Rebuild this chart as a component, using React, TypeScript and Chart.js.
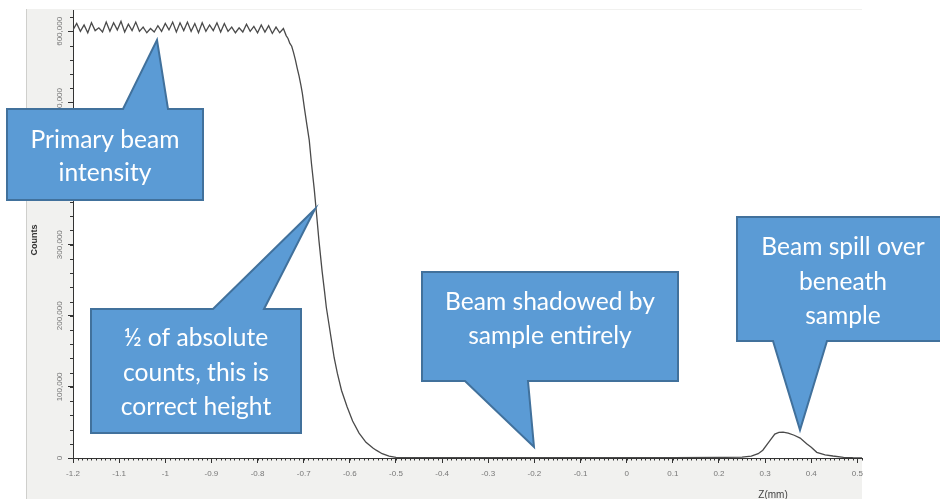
import React, { useEffect, useRef } from "react";
import { Chart, registerables } from "chart.js";
Chart.register(...registerables);

// Z position (mm)
const zValues = [
  -1.2, -1.192, -1.184, -1.176, -1.168, -1.16, -1.152, -1.144, -1.136, -1.128,
  -1.12, -1.112, -1.104, -1.096, -1.088, -1.08, -1.072, -1.064, -1.056, -1.048,
  -1.04, -1.032, -1.024, -1.016, -1.008, -1.0, -0.992, -0.984, -0.976, -0.968,
  -0.96, -0.952, -0.944, -0.936, -0.928, -0.92, -0.912, -0.904, -0.896, -0.888,
  -0.88, -0.872, -0.864, -0.856, -0.848, -0.84, -0.832, -0.824, -0.816, -0.808,
  -0.8, -0.792, -0.784, -0.776, -0.768, -0.76, -0.752, -0.744,
  -0.738, -0.734, -0.73, -0.726, -0.722, -0.718, -0.714, -0.71, -0.706, -0.703,
  -0.698, -0.693, -0.688, -0.683, -0.677, -0.672, -0.667, -0.66, -0.655, -0.651,
  -0.645, -0.64, -0.634, -0.627, -0.618, -0.606, -0.594, -0.58, -0.565, -0.55,
  -0.543, -0.53, -0.515, -0.5, -0.45, -0.4, -0.3, -0.2, -0.1, 0.0,
  0.1, 0.2, 0.25, 0.27, 0.285, 0.295, 0.31, 0.321, 0.33, 0.339,
  0.35, 0.363, 0.376, 0.39, 0.4, 0.412, 0.43, 0.447, 0.47, 0.49, 0.51,
];

// Counts (thousands)
const countsK = [
  602, 611, 600, 609, 598, 612, 601, 605, 599, 613,
  600, 612, 602, 614, 599, 610, 601, 613, 600, 606,
  598, 604, 599, 608, 600, 611, 602, 613, 599, 612,
  601, 613, 600, 611, 598, 612, 600, 609, 601, 612,
  599, 611, 600, 606, 598, 605, 599, 610, 600, 607,
  598, 609, 599, 608, 597, 606, 598, 604,
  594, 590, 583, 579, 570, 560, 548, 537, 524, 513,
  490, 468, 447, 413, 377, 342, 306, 262, 235, 212,
  187, 166, 141, 119, 95, 72, 52, 35, 22, 14,
  11, 6, 2.5, 1, 0.6, 0.5, 0.4, 0.5, 0.4, 0.5,
  0.6, 0.8, 1.2, 2.5, 6, 11, 24, 33.7, 36, 36.5,
  35, 32, 28, 20, 15, 8, 4.5, 2.8, 1, 0.5, 0.3,
];

const xTickValues = [-1.2, -1.1, -1.0, -0.9, -0.8, -0.7, -0.6, -0.5, -0.4, -0.3, -0.2, -0.1, 0, 0.1, 0.2, 0.3, 0.4, 0.5];
const yTickValues = [0, 100000, 200000, 300000, 400000, 500000, 600000];
const yTickLabels = ["0", "100,000", "200,000", "300,000", "400,000", "500,000", "600,000"];

const X_MIN = -1.2;
const X_MAX = 0.51;
const Y_MAX = 630000;
const X_MINOR_STEP = 0.01;
const Y_MINOR_STEP = 20000;

type Callout = {
  l: number; t: number; r: number; b: number;
  side: "top" | "bottom";
  b1: number; b2: number; tipX: number; tipY: number;
  lines: string[]; lineY: number[]; cx: number;
};

const callouts: Callout[] = [
  { l: 7, t: 109, r: 203, b: 200, side: "top", b1: 123, b2: 168, tipX: 157, tipY: 40,
    lines: ["Primary beam", "intensity"], lineY: [140, 173], cx: 105 },
  { l: 91, t: 309, r: 301, b: 433, side: "top", b1: 213, b2: 264, tipX: 315, tipY: 209,
    lines: ["½ of absolute", "counts, this is", "correct height"], lineY: [338, 373, 407], cx: 196 },
  { l: 422, t: 272, r: 678, b: 381, side: "bottom", b1: 465, b2: 528, tipX: 534, tipY: 447,
    lines: ["Beam shadowed by", "sample entirely"], lineY: [302, 336], cx: 550 },
  { l: 737, t: 217, r: 949, b: 341, side: "bottom", b1: 773, b2: 827, tipX: 800, tipY: 430,
    lines: ["Beam spill over", "beneath", "sample"], lineY: [247, 282, 316], cx: 843 },
];

const AXIS_FONT = "'Liberation Sans', Arial, sans-serif";

const decorPlugin = {
  id: "decor",
  beforeDraw(chart: any) {
    const ctx = chart.ctx;
    const ca = chart.chartArea;
    ctx.save();
    ctx.fillStyle = "#ffffff";
    ctx.fillRect(0, 0, chart.width, chart.height);
    ctx.fillStyle = "#f1f1ef";
    ctx.fillRect(26, 9, ca.right - 26, chart.height - 9);
    ctx.strokeStyle = "#cfcfcc";
    ctx.lineWidth = 1;
    ctx.beginPath();
    ctx.moveTo(26.5, 9);
    ctx.lineTo(26.5, chart.height);
    ctx.stroke();
    ctx.fillStyle = "#ffffff";
    ctx.fillRect(ca.left, ca.top, ca.right - ca.left, ca.bottom - ca.top);
    ctx.restore();
  },
  afterDraw(chart: any) {
    const ctx = chart.ctx;
    const xs = chart.scales.x;
    const ys = chart.scales.y;
    const ca = chart.chartArea;
    ctx.save();
    // minor ticks
    ctx.strokeStyle = "#333";
    ctx.lineWidth = 1;
    ctx.beginPath();
    const nx = Math.round((X_MAX - X_MIN) / X_MINOR_STEP);
    for (let i = 0; i <= nx; i++) {
      const v = X_MIN + i * X_MINOR_STEP;
      const px = Math.round(xs.getPixelForValue(v)) + 0.5;
      ctx.moveTo(px, ca.bottom);
      ctx.lineTo(px, ca.bottom + 2.5);
    }
    const ny = Math.floor(Y_MAX / Y_MINOR_STEP);
    for (let i = 0; i <= ny; i++) {
      const py = Math.round(ys.getPixelForValue(i * Y_MINOR_STEP)) + 0.5;
      ctx.moveTo(ca.left, py);
      ctx.lineTo(ca.left - 3, py);
    }
    ctx.stroke();

    // y labels rotated
    ctx.fillStyle = "#777";
    ctx.font = `8px ${AXIS_FONT}`;
    ctx.textAlign = "center";
    ctx.textBaseline = "middle";
    yTickValues.forEach((v, i) => {
      const py = ys.getPixelForValue(v);
      ctx.save();
      ctx.translate(60, py);
      ctx.rotate(-Math.PI / 2);
      ctx.fillText(yTickLabels[i], 0, 0);
      ctx.restore();
    });
    // axis titles
    ctx.save();
    ctx.fillStyle = "#333";
    ctx.font = `bold 9px ${AXIS_FONT}`;
    ctx.translate(35, 240);
    ctx.rotate(-Math.PI / 2);
    ctx.fillText("Counts", 0, 0);
    ctx.restore();
    ctx.fillStyle = "#444";
    ctx.font = `10px ${AXIS_FONT}`;
    ctx.textBaseline = "top";
    ctx.fillText("Z(mm)", 773, 490);

    // callouts
    ctx.font = "100px Lato";
    const refW = ctx.measureText("Beam shadowed by").width;
    const fs = (100 * 210) / refW;
    callouts.forEach((c) => {
      ctx.beginPath();
      ctx.moveTo(c.l, c.t);
      if (c.side === "top") {
        ctx.lineTo(c.b1, c.t);
        ctx.lineTo(c.tipX, c.tipY);
        ctx.lineTo(c.b2, c.t);
        ctx.lineTo(c.r, c.t);
        ctx.lineTo(c.r, c.b);
        ctx.lineTo(c.l, c.b);
      } else {
        ctx.lineTo(c.r, c.t);
        ctx.lineTo(c.r, c.b);
        ctx.lineTo(c.b2, c.b);
        ctx.lineTo(c.tipX, c.tipY);
        ctx.lineTo(c.b1, c.b);
        ctx.lineTo(c.l, c.b);
      }
      ctx.closePath();
      ctx.fillStyle = "#5b9bd5";
      ctx.fill();
      ctx.strokeStyle = "#41719c";
      ctx.lineWidth = 2;
      ctx.lineJoin = "miter";
      ctx.stroke();
      ctx.fillStyle = "#ffffff";
      ctx.font = `${fs}px Lato`;
      ctx.textAlign = "center";
      ctx.textBaseline = "middle";
      c.lines.forEach((ln, i) => ctx.fillText(ln, c.cx, c.lineY[i]));
    });
    ctx.restore();
  },
};

export default function App() {
  const ref = useRef<HTMLCanvasElement | null>(null);
  useEffect(() => {
    if (!ref.current) return;
    const points = zValues.map((z, i) => ({ x: z, y: countsK[i] * 1000 }));
    const chart = new Chart(ref.current, {
      type: "line",
      data: {
        datasets: [
          {
            data: points,
            borderColor: "#4a4a4a",
            borderWidth: 1.3,
            pointRadius: 0,
            tension: 0,
            fill: false,
          },
        ],
      },
      options: {
        responsive: false,
        animation: false,
        events: [],
        layout: { padding: { left: 0, top: 10, right: 78, bottom: 0 } },
        plugins: { legend: { display: false }, tooltip: { enabled: false } },
        scales: {
          x: {
            type: "linear",
            min: X_MIN,
            max: X_MAX,
            border: { display: true, color: "#333", width: 1 },
            grid: { drawOnChartArea: false, drawTicks: true, tickLength: 5, color: "#333" },
            ticks: {
              color: "#777",
              font: { family: AXIS_FONT, size: 8 },
              padding: 6,
              maxRotation: 0,
              minRotation: 0,
              autoSkip: false,
              callback: (v: any) => String(Number(Number(v).toFixed(1))),
            },
            afterBuildTicks: (s: any) => {
              s.ticks = xTickValues.map((v) => ({ value: v }));
            },
            afterFit: (s: any) => {
              s.height = 41;
            },
          },
          y: {
            type: "linear",
            min: 0,
            max: Y_MAX,
            border: { display: true, color: "#333", width: 1 },
            grid: { drawOnChartArea: false, drawTicks: true, tickLength: 5, color: "#333" },
            ticks: { display: false },
            afterBuildTicks: (s: any) => {
              s.ticks = yTickValues.map((v) => ({ value: v }));
            },
            afterFit: (s: any) => {
              s.width = 73;
            },
          },
        },
      },
      plugins: [decorPlugin],
    });
    return () => chart.destroy();
  }, []);
  return (
    <div style={{ position: "absolute", left: 0, top: 0, width: 940, height: 499 }}>
      <canvas ref={ref} width={940} height={499} />
    </div>
  );
}
